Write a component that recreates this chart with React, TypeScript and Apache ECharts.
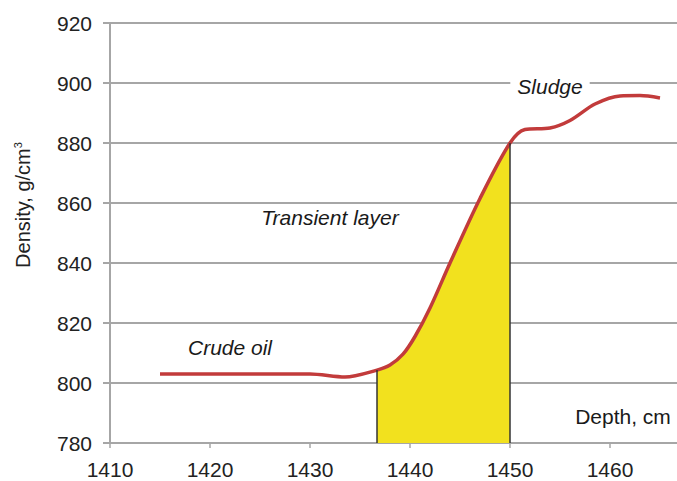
import React, { useEffect, useRef } from "react";
import * as echarts from "echarts";

const depth = [1415, 1420, 1425, 1430, 1433.5, 1436.7, 1438, 1439.3, 1440.5, 1442, 1444, 1447, 1450, 1451.5, 1454, 1456, 1458.5, 1461, 1463, 1465];
const density = [803, 803, 803, 803, 802, 804.3, 806, 809.6, 815.5, 825, 840, 861.5, 880, 884.5, 885, 887.5, 893, 895.7, 895.8, 895];
const layerStart = 1436.7;
const layerEnd = 1450;
const xTicks = [1410, 1420, 1430, 1440, 1450, 1460];
const yTicks = [780, 800, 820, 840, 860, 880, 900, 920];
const annotationText = ["Crude oil", "Transient layer", "Sludge", "Depth, cm"];
const annotationX = [1422, 1432, 1454, 1461.3];
const annotationY = [811.7, 855.3, 899, 788.7];

export default function App() {
  const ref = useRef<HTMLDivElement>(null);
  useEffect(() => {
    if (!ref.current) return;
    const chart = echarts.init(ref.current, null, { renderer: "svg" });
    const curve = depth.map((d, i) => [d, density[i]]);
    const fill = curve.filter((p) => p[0] >= layerStart && p[0] <= layerEnd);
    const yAt = (x: number) => density[depth.indexOf(x)];
    const font = "'Liberation Sans', Arial, sans-serif";
    const annData = annotationText.map((t, i) => ({
      value: [annotationX[i], annotationY[i]],
      name: t,
      label:
        t === "Sludge"
          ? { backgroundColor: "#ffffff", padding: [2, 7] }
          : t === "Depth, cm"
          ? { fontStyle: "normal" }
          : {},
    }));
    chart.setOption({
      animation: false,
      grid: { left: 110, right: 0, top: 23, bottom: 38, containLabel: false, outerBoundsMode: "none" },
      xAxis: {
        type: "value",
        min: xTicks[0],
        max: 1466.7,
        interval: 10,
        axisLine: { show: true, lineStyle: { color: "#a6a6a6", width: 2 } },
        axisTick: { show: true, length: 5, lineStyle: { color: "#a6a6a6", width: 1.5 } },
        splitLine: { show: false },
        axisLabel: {
          showMaxLabel: false,
          margin: 16,
          color: "#222",
          fontSize: 21,
          fontFamily: font,
          formatter: (v: number) => (xTicks.includes(v) ? String(v) : ""),
        },
      },
      yAxis: {
        type: "value",
        min: yTicks[0],
        max: yTicks[yTicks.length - 1],
        interval: 20,
        axisLine: { show: true, lineStyle: { color: "#a6a6a6", width: 2 } },
        axisTick: { show: true, length: 7, lineStyle: { color: "#a6a6a6", width: 2 } },
        splitLine: { show: true, lineStyle: { color: "#a6a6a6", width: 2 } },
        axisLabel: { margin: 18, color: "#222", fontSize: 21, fontFamily: font },
      },
      graphic: [
        {
          type: "text",
          x: 23,
          y: 205,
          rotation: Math.PI / 2,
          style: {
            text: "{a|Density, g/cm}{s|3}",
            align: "center",
            verticalAlign: "middle",
            rich: {
              a: { fontSize: 20, fontFamily: font, fill: "#222" },
              s: { fontSize: 11, fontFamily: font, fill: "#222", verticalAlign: "top", padding: [0, 0, 11, 0] },
            },
          },
        },
      ],
      series: [
        {
          type: "line",
          data: fill,
          smooth: 0.3,
          symbol: "none",
          lineStyle: { width: 0 },
          areaStyle: { color: "#f2e11e", opacity: 1, origin: "start" },
          z: 1,
          silent: true,
          markLine: {
            silent: true,
            symbol: "none",
            label: { show: false },
            lineStyle: { color: "#333", width: 1.5, type: "solid" },
            data: [
              [{ coord: [layerStart, yTicks[0]] }, { coord: [layerStart, yAt(layerStart)] }],
              [{ coord: [layerEnd, yTicks[0]] }, { coord: [layerEnd, yAt(layerEnd)] }],
            ],
          },
        },
        {
          type: "line",
          data: curve,
          smooth: 0.3,
          symbol: "none",
          lineStyle: { color: "#c23b3b", width: 3.5 },
          z: 3,
          silent: true,
        },
        {
          type: "scatter",
          symbolSize: 0,
          silent: true,
          z: 4,
          itemStyle: { opacity: 1 },
          data: annData,
          label: {
            show: true,
            position: "inside",
            formatter: "{b}",
            fontSize: 21,
            fontFamily: font,
            color: "#1a1a1a",
            opacity: 1,
            fontStyle: "italic",
          },
        },
      ],
    });
    return () => chart.dispose();
  }, []);
  return <div ref={ref} style={{ width: 677, height: 481, position: "absolute", left: 0, top: 0 }} />;
}
